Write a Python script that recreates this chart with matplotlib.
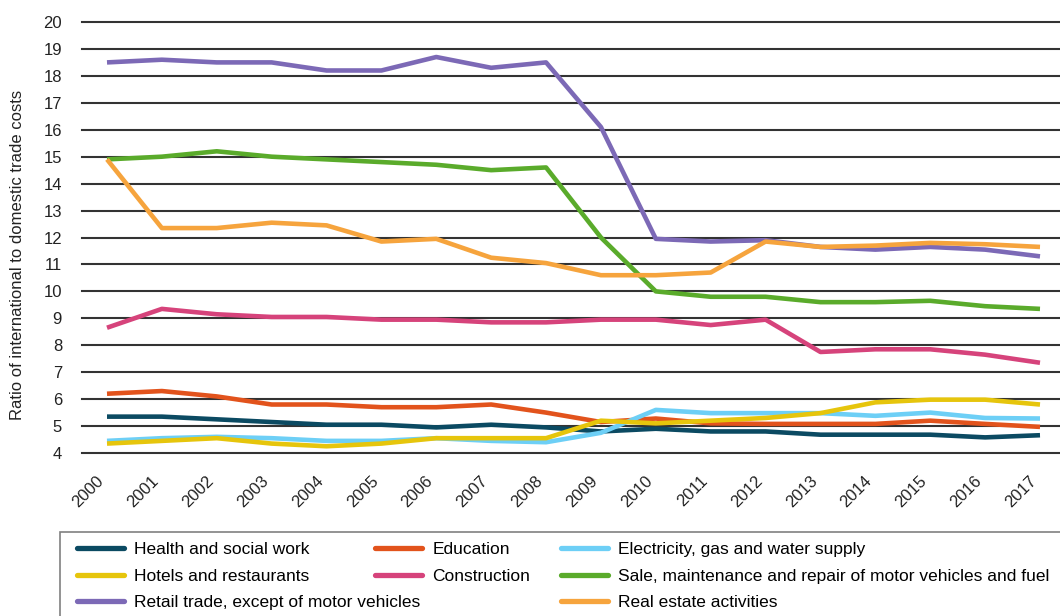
import matplotlib
matplotlib.use("Agg")
import matplotlib.pyplot as plt
from matplotlib import font_manager
from matplotlib.lines import Line2D
from matplotlib.patches import Rectangle
from matplotlib.transforms import ScaledTranslation

years = list(range(2000, 2018))

health = [5.35, 5.35, 5.25, 5.15, 5.05, 5.05, 4.95, 5.05, 4.95, 4.8, 4.9, 4.8, 4.8, 4.68, 4.68, 4.68, 4.58, 4.66]
education = [6.2, 6.3, 6.1, 5.8, 5.8, 5.7, 5.7, 5.8, 5.5, 5.15, 5.28, 5.1, 5.08, 5.08, 5.08, 5.2, 5.08, 4.97]
electricity = [4.45, 4.55, 4.6, 4.55, 4.45, 4.45, 4.55, 4.45, 4.4, 4.75, 5.6, 5.48, 5.48, 5.48, 5.38, 5.5, 5.3, 5.28]
hotels = [4.35, 4.45, 4.55, 4.35, 4.25, 4.35, 4.55, 4.55, 4.55, 5.2, 5.1, 5.2, 5.3, 5.48, 5.88, 5.98, 5.98, 5.8]
construction = [8.65, 9.35, 9.15, 9.05, 9.05, 8.95, 8.95, 8.85, 8.85, 8.95, 8.95, 8.75, 8.95, 7.75, 7.85, 7.85, 7.65, 7.35]
sale = [14.9, 15.0, 15.2, 15.0, 14.9, 14.8, 14.7, 14.5, 14.6, 12.0, 10.0, 9.8, 9.8, 9.6, 9.6, 9.65, 9.45, 9.35]
retail = [18.5, 18.6, 18.5, 18.5, 18.2, 18.2, 18.7, 18.3, 18.5, 16.1, 11.95, 11.85, 11.9, 11.65, 11.55, 11.65, 11.55, 11.3]
real_estate = [14.9, 12.35, 12.35, 12.55, 12.45, 11.85, 11.95, 11.25, 11.05, 10.6, 10.6, 10.7, 11.85, 11.65, 11.7, 11.8, 11.75, 11.65]

labels = ["Health and social work", "Education", "Electricity, gas and water supply",
          "Hotels and restaurants", "Construction",
          "Sale, maintenance and repair of motor vehicles and fuel",
          "Retail trade, except of motor vehicles", "Real estate activities"]
colors = ["#0b4a62", "#e2531c", "#6dcff6", "#e6c50c", "#d6437b", "#5aab2b", "#7c69b6", "#f6a43d"]
series = [health, education, electricity, hotels, construction, sale, retail, real_estate]
yticks = list(range(4, 21))

available = {f.name for f in font_manager.fontManager.ttflist}
base_font = "Liberation Sans" if "Liberation Sans" in available else "DejaVu Sans"
plt.rcParams["font.family"] = [base_font, "DejaVu Sans"]

fig = plt.figure(figsize=(10.6, 6.16), dpi=100)
ax = fig.add_axes([82 / 1060, 1 - 453 / 616, 1 - 82 / 1060, (453 - 22) / 616])

for s, c in zip(series, colors):
    ax.plot(years, s, color=c, lw=3.3, solid_joinstyle="round", solid_capstyle="butt", zorder=3)

px_per_year = (1040 - 107) / 17
ax.set_xlim(2000 - 25 / px_per_year, 2017 + 20 / px_per_year)
ax.set_ylim(4, 20)
ax.set_yticks(yticks)
ax.set_yticklabels([str(v) for v in yticks], fontsize=12, color="#222222")
ax.set_xticks(years)
ax.set_xticklabels([str(y) for y in years], rotation=45, ha="right", va="top",
                   rotation_mode="anchor", fontsize=12, color="#222222")
ax.tick_params(axis="both", length=0)
ax.tick_params(axis="y", pad=14.4)
ax.tick_params(axis="x", pad=14.5)
shift = ScaledTranslation(-11 / 100, 0, fig.dpi_scale_trans)
for lab in ax.get_xticklabels():
    lab.set_transform(lab.get_transform() + shift)
for sp in ax.spines.values():
    sp.set_visible(False)
for v in yticks:
    ax.axhline(v, color="#333333", lw=1.5, zorder=1, clip_on=False)

fig.text(18 / 1060, 1 - 255 / 616, "Ratio of international to domestic trade costs",
         rotation=90, ha="center", va="center", fontsize=12, color="#222222")

# legend frame
fig.patches.append(Rectangle((60 / 1060, -0.05), 1.2, 0.05 + (616 - 532) / 616,
                             transform=fig.transFigure, fill=False, edgecolor="#808080", lw=1.2))

cols = [[0, 3, 6], [1, 4], [2, 5, 7]]
col_x = [77, 375, 561]
for idxs, x in zip(cols, col_x):
    handles = [Line2D([0], [0], color=colors[i], lw=3.8, solid_capstyle="round") for i in idxs]
    fig.legend(handles, [labels[i] for i in idxs], loc="upper left",
               bbox_to_anchor=(x / 1060, 1 - 542 / 616), frameon=False,
               prop={"family": base_font, "size": 12.5}, handlelength=2.7,
               handletextpad=0.6, labelspacing=0.66, borderpad=0.0, borderaxespad=0.0)

fig.savefig("out.png", dpi=100)
